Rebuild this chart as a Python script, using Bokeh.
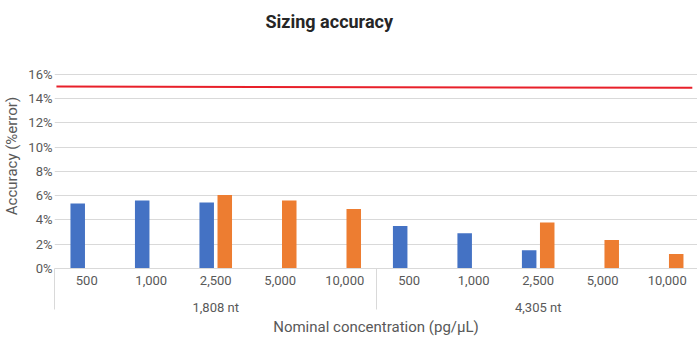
from bokeh.plotting import figure
from bokeh.models import (FixedTicker, LinearAxis, PrintfTickFormatter, Range1d,
                          Legend, LegendItem, ColumnDataSource, Title)
from bokeh.embed import file_html
from bokeh.resources import INLINE

# Nominal concentrations (pg/uL), repeated for each transcript size
concentrations = ["500", "1,000", "2,500", "5,000", "10,000"]
sizes = ["1,808 nt", "4,305 nt"]

# Sizing error (%) per concentration; None where a method was not run
method_a = [5.35, 5.6, 5.45, None, None, 3.5, 2.9, 1.5, None, None]
method_b = [None, None, 6.05, 5.6, 4.9, None, None, 3.8, 2.35, 1.2]

# Acceptance limit drawn across the chart
limit_x = [-0.47, 9.39]
limit_y = [15.0, 14.9]

y_ticks = list(range(0, 17, 2))

FONT = "Roboto"
GRID = "#d9d9d9"
TEXT = "#595959"
BLUE = "#4472c4"
ORANGE = "#ed7d31"
RED = "#e8202a"

n_conc = len(concentrations)
n_cat = n_conc * len(sizes)
tick_labels = {i: concentrations[i % n_conc] for i in range(n_cat)}
group_centers = [g * n_conc + (n_conc - 1) / 2 for g in range(len(sizes))]
group_labels = {c: s for c, s in zip(group_centers, sizes)}
separators = [g * n_conc - 0.5 for g in range(len(sizes) + 1)]

offset = 0.14
bar_w = 0.225


def series(values, shift):
    xs, tops = [], []
    for i, v in enumerate(values):
        if v is not None:
            xs.append(i + shift)
            tops.append(v)
    return ColumnDataSource(dict(x=xs, top=tops))


p = figure(frame_width=643, frame_height=225, output_backend="svg",
           toolbar_location=None,
           x_range=Range1d(-0.5, 9.47), y_range=Range1d(0, 18.55),
           min_border_left=54, min_border_right=0, min_border_top=0,
           min_border_bottom=94)
p.outline_line_color = None
p.background_fill_color = "white"
p.border_fill_color = "white"

# Default axes, taken before any extra panels are added
xa = p.below[0]
ya = p.left[0]

# Heading
p.add_layout(Title(text="Sizing accuracy", align="left", offset=211,
                   vertical_align="top", standoff=20,
                   text_font=FONT, text_font_size="18px",
                   text_font_style="bold", text_color="#262626"), "above")

# Grid
p.xgrid.visible = False
p.ygrid.ticker = FixedTicker(ticks=y_ticks)
p.ygrid.grid_line_color = GRID
p.ygrid.grid_line_width = 1

# Y axis
ya.ticker = FixedTicker(ticks=y_ticks)
ya.formatter = PrintfTickFormatter(format="%d%%")
ya.axis_line_color = None
ya.major_tick_line_color = None
ya.minor_tick_line_color = None
ya.major_tick_out = 0
ya.major_label_standoff = 2
ya.major_label_text_font = FONT
ya.major_label_text_font_size = "13px"
ya.major_label_text_color = TEXT
ya.axis_label = "Accuracy (%error)"
ya.axis_label_text_font = FONT
ya.axis_label_text_font_size = "15px"
ya.axis_label_text_font_style = "normal"
ya.axis_label_text_color = TEXT
ya.axis_label_standoff = 4

# X axis: concentration labels, with group separators drawn as long minor
# ticks (negative "in" length so they hang below without growing the axis)
xa.ticker = FixedTicker(ticks=list(range(n_cat)), minor_ticks=separators)
xa.major_label_overrides = tick_labels
xa.axis_line_color = GRID
xa.major_tick_line_color = None
xa.major_tick_out = 0
xa.minor_tick_line_color = GRID
xa.minor_tick_in = -41
xa.minor_tick_out = 0
xa.major_label_standoff = 7
xa.major_label_text_font = FONT
xa.major_label_text_font_size = "13px"
xa.major_label_text_color = TEXT

# Second x axis: transcript size groups and axis title
xa2 = LinearAxis(ticker=FixedTicker(ticks=group_centers),
                 major_label_overrides=group_labels,
                 axis_line_color=None, major_tick_line_color=None,
                 minor_tick_line_color=None, major_tick_out=0,
                 major_label_standoff=12,
                 major_label_text_font=FONT, major_label_text_font_size="13px",
                 major_label_text_color=TEXT,
                 axis_label="Nominal concentration (pg/µL)",
                 axis_label_standoff=0,
                 axis_label_text_font=FONT, axis_label_text_font_size="15px",
                 axis_label_text_font_style="normal",
                 axis_label_text_color=TEXT)
p.add_layout(xa2, "below")

# Bars
ra = p.vbar(x="x", top="top", width=bar_w, bottom=0, source=series(method_a, -offset),
            fill_color=BLUE, line_color=None)
rb = p.vbar(x="x", top="top", width=bar_w, bottom=0, source=series(method_b, offset),
            fill_color=ORANGE, line_color=None)

# Limit line
p.line(limit_x, limit_y, line_color=RED, line_width=2)

legend = Legend(items=[LegendItem(label="Method A", renderers=[ra]),
                       LegendItem(label="Method B", renderers=[rb])],
                orientation="horizontal", location=(212, 2),
                border_line_color=None, background_fill_alpha=0,
                label_text_font=FONT, label_text_font_size="13px",
                label_text_color=TEXT, glyph_width=9, glyph_height=9,
                label_height=14, label_standoff=5, spacing=50,
                padding=0, margin=0)
p.add_layout(legend, "below")

open("out.html", "w").write(file_html(p, INLINE))
